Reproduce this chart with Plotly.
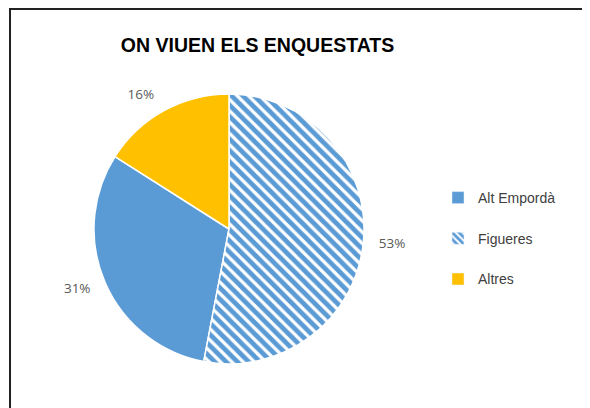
import plotly.graph_objects as go

# Data
labels = ["Alt Empordà", "Figueres", "Altres"]
values = [31, 53, 16]
colors = ["#5B9BD5", "#5B9BD5", "#FFC000"]
patterns = ["", "\\", ""]
title_text = "ON VIUEN ELS ENQUESTATS"

W, H = 590, 408
total = sum(values)
# counterclockwise: slice 1 ends at `rotation`; make "Figueres" end at 12 o'clock
rotation = 360.0 * values[1] / total

cx, cy, r = 221, 221, 135  # pie centre / radius in px (figure coords)
r_txt = 146                # radius of the label carrier pie


def dom(rad):
    return dict(x=[(cx - rad) / W, (cx + rad) / W],
                y=[(H - cy - rad) / H, (H - cy + rad) / H])


fig = go.Figure()

# transparent pie that only carries the percentage labels (slightly larger radius)
fig.add_trace(go.Pie(
    labels=labels,
    values=values,
    sort=False,
    direction="counterclockwise",
    rotation=rotation,
    marker=dict(colors=["rgba(0,0,0,0)"] * len(labels), line=dict(width=0)),
    texttemplate="%{percent:.0%}",
    textposition="outside",
    textfont=dict(family="Open Sans, Arial, sans-serif", size=13.5, color="#595959"),
    showlegend=False,
    hoverinfo="skip",
    domain=dom(r_txt),
))

# visible pie
fig.add_trace(go.Pie(
    labels=labels,
    values=values,
    sort=False,
    direction="counterclockwise",
    rotation=rotation,
    marker=dict(
        colors=colors,
        line=dict(color="white", width=1.5),
        pattern=dict(shape=patterns, fgcolor="#5B9BD5", bgcolor="white",
                     size=8, solidity=0.6, fillmode="replace"),
    ),
    textinfo="none",
    showlegend=False,
    hoverinfo="label+percent",
    domain=dom(r),
))

# Legend entries (no data, used only for the legend)
for lab, col, pat in zip(labels, colors, patterns):
    fig.add_trace(go.Bar(
        x=[None], y=[None], name=lab, legendgroup=lab,
        marker=dict(color=col,
                    pattern=dict(shape=pat, fgcolor="#5B9BD5", bgcolor="white",
                                 size=6, solidity=0.6, fillmode="replace") if pat else None),
        hoverinfo="skip",
    ))

fig.update_layout(
    width=W, height=H,
    margin=dict(l=0, r=0, t=0, b=0),
    paper_bgcolor="white",
    plot_bgcolor="white",
    xaxis=dict(visible=False),
    yaxis=dict(visible=False),
    title=dict(text="<b>" + title_text + "</b>", x=249.5 / W, xanchor="center",
               y=1 - 37 / H, yanchor="middle",
               font=dict(family="Liberation Sans, Arial, sans-serif", size=19.5, color="#000000")),
    legend=dict(
        x=430 / W, xanchor="left",
        y=1 - 174 / H, yanchor="top",
        traceorder="grouped",
        tracegroupgap=19.5,
        font=dict(family="Liberation Sans, Arial, sans-serif", size=14, color="#404040"),
        bgcolor="rgba(0,0,0,0)",
    ),
    shapes=[dict(type="path", xref="paper", yref="paper",
                 path=f"M {2 / W},-0.5 L {2 / W},{1 - 1 / H} L 1.5,{1 - 1 / H}",
                 line=dict(color="#222222", width=2))],
)

fig.write_html("out.html")
